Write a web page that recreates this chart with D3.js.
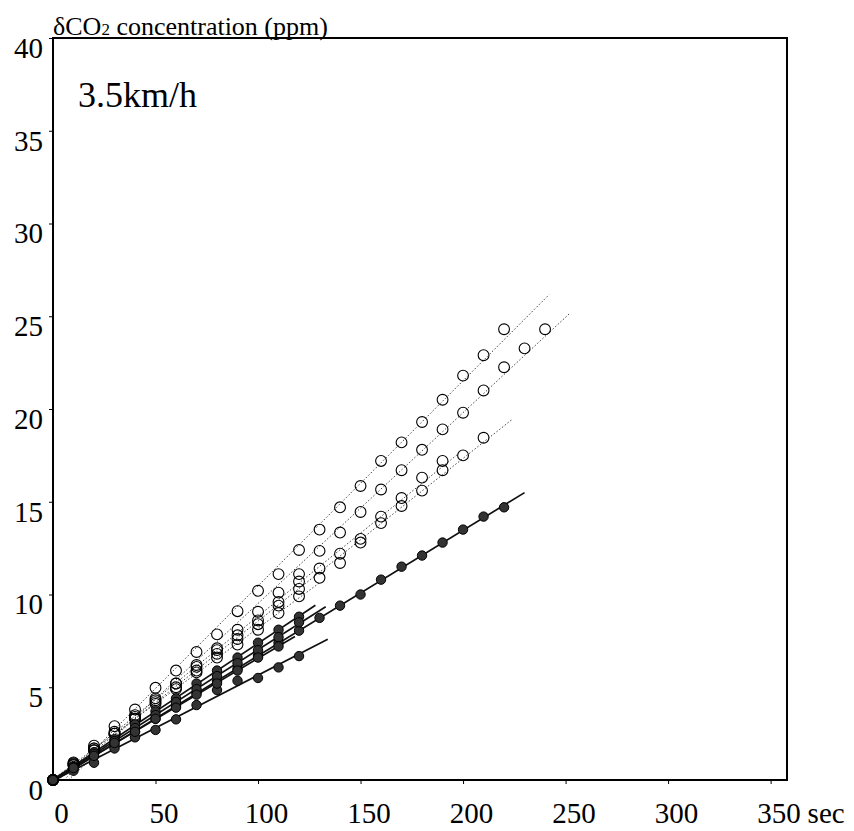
<!DOCTYPE html>
<html>
<head>
<meta charset="utf-8">
<script src="https://cdn.jsdelivr.net/npm/d3@7"></script>
<style>
body { margin: 0; background: #fff; }
text { font-family: "Liberation Serif", "DejaVu Serif", serif; fill: #000; }
</style>
</head>
<body>
<div id="chart"></div>
<script>
// sampling times (sec), each series starts at 0 and is sampled every 10 s
var secs = [0,10,20,30,40,50,60,70,80,90,100,110,120,130,140,150,160,170,180,190,200,210,220,230,240];

var xTicks = [0,50,100,150,200,250,300,350];
var yTicks = [0,5,10,15,20,25,30,35,40];

// open circles (dotted fit lines), ppm
var open1 = [0,0.95,1.85,2.9,3.8,4.97,5.9,6.9,7.85,9.1,10.2,11.1,12.4,13.5,14.7,15.85,17.2,18.2,19.3,20.5,21.8,22.9,24.3];
var open2 = [0,0.8,1.6,2.5,3.4,4.3,5.2,6.2,7.1,8.1,9.07,10.1,11.1,12.35,13.34,14.45,15.66,16.7,17.8,18.9,19.8,21.0,22.25,23.27,24.3];
var open3 = [0,0.8,1.6,2.5,3.3,4.2,5.0,5.9,6.8,7.6,8.4,9.4,10.3,10.9,11.7,12.8,13.85,14.77,15.6,16.7,17.5,18.45];
var open4 = [0,0.85,1.7,2.6,3.5,4.4,5.2,6.1,7.0,7.8,8.6,9.6,10.7,11.4,12.2,13.0,14.2,15.2,16.3,17.2];
var open5 = [0,0.9,1.7,2.5,3.3,4.1,4.9,5.8,6.6,7.3,8.1,9.0,9.9];

// filled circles (solid fit lines), ppm
var fill1 = [0,0.6,1.3,1.9,2.6,3.3,4.0,4.7,5.3,6.0,6.7,7.4,8.05,8.74,9.4,10.0,10.8,11.5,12.1,12.8,13.5,14.2,14.7];
var fill2 = [0,0.5,0.93,1.7,2.3,2.7,3.27,4.04,4.85,5.35,5.5,6.07,6.68];
var fill3 = [0,0.75,1.5,2.2,3.0,3.7,4.4,5.2,5.9,6.6,7.4,8.1,8.8];
var fill4 = [0,0.7,1.4,2.1,2.8,3.5,4.2,4.9,5.6,6.3,7.0,7.7,8.5];
var fill5 = [0,0.65,1.3,2.0,2.6,3.3,3.9,4.6,5.2,5.9,6.6,7.2];

// how far (sec) each fit line is drawn
var openLineEnd = [242, 252, 224, 198, 130];
var fillLineEnd = [230, 134, 128, 133, 118];

var series = [];
[open1, open2, open3, open4, open5].forEach(function(v, i) {
    series.push({values: v, filled: false, lineEnd: openLineEnd[i]});
});
[fill1, fill2, fill3, fill4, fill5].forEach(function(v, i) {
    series.push({values: v, filled: true, lineEnd: fillLineEnd[i]});
});

var margin = {top: 38, right: 67, bottom: 51, left: 53},
    width = 854 - margin.left - margin.right,
    height = 831 - margin.top - margin.bottom;

var svg = d3.select("#chart")
    .append("svg")
    .attr("width", width + margin.left + margin.right)
    .attr("height", height + margin.top + margin.bottom)
    .append("g")
    .attr("transform", "translate(" + margin.left + "," + margin.top + ")");

var x = d3.scaleLinear().domain([0, 358]).range([0, width]);
var y = d3.scaleLinear().domain([0, 40]).range([height, 0]);

svg.append("clipPath").attr("id", "plotClip")
    .append("rect").attr("width", width).attr("height", height);

// least squares fit for each series
function fit(vals) {
    var pts = vals.map(function(v, i) { return [secs[i], v]; });
    var mx = d3.mean(pts, d => d[0]), my = d3.mean(pts, d => d[1]);
    var sxy = d3.sum(pts, d => (d[0] - mx) * (d[1] - my));
    var sxx = d3.sum(pts, d => (d[0] - mx) * (d[0] - mx));
    var a = sxy / sxx;
    return {a: a, b: my - a * mx};
}

var lines = svg.append("g").attr("clip-path", "url(#plotClip)");
series.forEach(function(s) {
    var f = fit(s.values);
    var t0 = f.b < 0 ? -f.b / f.a : 0;
    lines.append("line")
        .attr("x1", x(t0)).attr("y1", y(f.a * t0 + f.b))
        .attr("x2", x(s.lineEnd)).attr("y2", y(f.a * s.lineEnd + f.b))
        .style("stroke", s.filled ? "#111" : "#444")
        .style("stroke-width", s.filled ? 1.7 : 1)
        .style("stroke-dasharray", s.filled ? null : "1.5,2");
});

// frame and axes
svg.append("rect")
    .attr("width", width).attr("height", height)
    .style("fill", "none").style("stroke", "#000").style("stroke-width", 2);

var xAxis = svg.append("g")
    .attr("transform", "translate(0," + height + ")")
    .call(d3.axisBottom(x).tickValues(xTicks).tickSize(4).tickFormat(d3.format("d")));
xAxis.select(".domain").remove();
xAxis.selectAll("text")
    .attr("x", 8).attr("y", 22)
    .style("font-size", "29px");

svg.append("text")
    .attr("x", x(350) + 37).attr("y", height + 22)
    .attr("dy", "0.71em")
    .style("font-size", "29px")
    .text("sec");

var yAxis = svg.append("g")
    .call(d3.axisLeft(y).tickValues(yTicks).tickSize(4).tickFormat(d3.format("d")));
yAxis.select(".domain").remove();
yAxis.selectAll("text")
    .attr("x", -10).attr("y", 10)
    .style("font-size", "29px");

// points
series.forEach(function(s) {
    svg.append("g").selectAll("circle")
        .data(s.values)
        .enter()
        .append("circle")
        .attr("cx", function(d, i) { return x(secs[i]); })
        .attr("cy", function(d) { return y(d); })
        .attr("r", s.filled ? 4.7 : 5.4)
        .style("fill", s.filled ? "#333" : "none")
        .style("stroke", "#000")
        .style("stroke-width", s.filled ? 1 : 1.1);
});

// titles
var title = svg.append("text")
    .attr("x", 0).attr("y", -3)
    .style("font-size", "26px");
title.append("tspan").text("\u03b4CO");
title.append("tspan").style("font-size", "17px").text("2");
title.append("tspan").text(" concentration (ppm)");

svg.append("text")
    .attr("x", 25).attr("y", 69)
    .style("font-size", "36px")
    .text("3.5km/h");
</script>
</body>
</html>
